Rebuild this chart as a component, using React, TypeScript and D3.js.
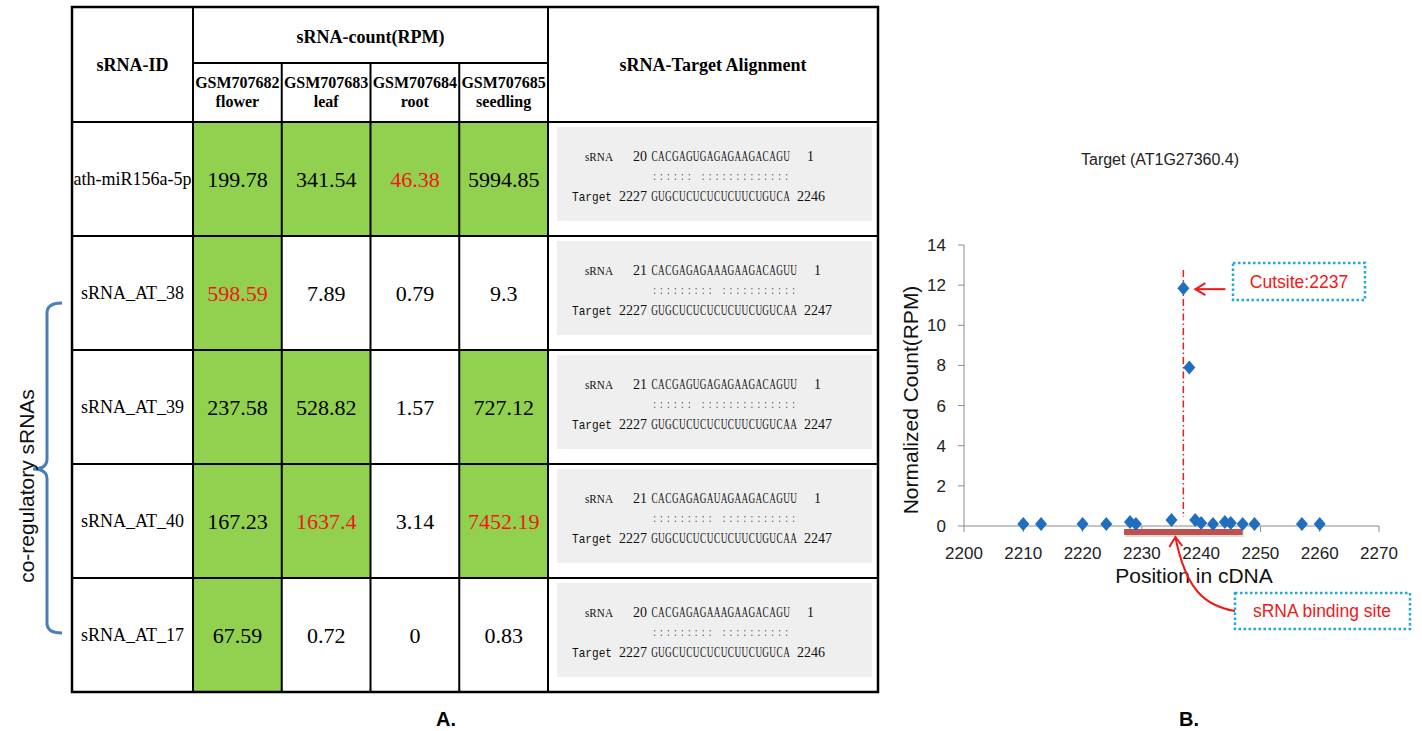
import React from 'react';
import * as d3 from 'd3';

// ---- table A data ----
const sampleIds = ['GSM707682', 'GSM707683', 'GSM707684', 'GSM707685'];
const tissues = ['flower', 'leaf', 'root', 'seedling'];
const srnaIds = ['ath-miR156a-5p', 'sRNA_AT_38', 'sRNA_AT_39', 'sRNA_AT_40', 'sRNA_AT_17'];

const flowerRpm = [199.78, 598.59, 237.58, 167.23, 67.59];
const leafRpm = [341.54, 7.89, 528.82, 1637.4, 0.72];
const rootRpm = [46.38, 0.79, 1.57, 3.14, 0];
const seedlingRpm = [5994.85, 9.3, 727.12, 7452.19, 0.83];

// 1 = cell shaded green, one flag per sample column
const greenCells = [
  [1, 1, 1, 1],
  [1, 0, 0, 0],
  [1, 1, 0, 1],
  [1, 1, 0, 1],
  [1, 0, 0, 0],
];
// 1 = value printed in red
const redCells = [
  [0, 0, 1, 0],
  [1, 0, 0, 0],
  [0, 0, 0, 0],
  [0, 1, 0, 1],
  [0, 0, 0, 0],
];

const srnaLengths = [20, 21, 21, 21, 20];
const srnaSeqs = [
  'CACGAGUGAGAGAAGACAGU',
  'CACGAGAGAAAGAAGACAGUU',
  'CACGAGUGAGAGAAGACAGUU',
  'CACGAGAGAUAGAAGACAGUU',
  'CACGAGAGAAAGAAGACAGU',
];
const pairLines = [
  ':::::: :::::::::::::',
  '::::::::: :::::::::::',
  ':::::: ::::::::::::::',
  '::::::::: :::::::::::',
  '::::::::: ::::::::::',
];
const targetSeqs = [
  'GUGCUCUCUCUCUUCUGUCA',
  'GUGCUCUCUCUCUUCUGUCAA',
  'GUGCUCUCUCUCUUCUGUCAA',
  'GUGCUCUCUCUCUUCUGUCAA',
  'GUGCUCUCUCUCUUCUGUCA',
];
const targetStart = 2227;
const targetEnds = [2246, 2247, 2247, 2247, 2246];

// ---- chart B data ----
const positions = [2210, 2213, 2220, 2224, 2228, 2229, 2235, 2237, 2238, 2239, 2240, 2242, 2244, 2245, 2247, 2249, 2257, 2260];
const counts = [0.1, 0.1, 0.1, 0.1, 0.2, 0.1, 0.3, 11.85, 7.9, 0.3, 0.15, 0.1, 0.2, 0.15, 0.1, 0.1, 0.1, 0.1];
const xTicks = [2200, 2210, 2220, 2230, 2240, 2250, 2260, 2270];
const yTicks = [0, 2, 4, 6, 8, 10, 12, 14];
const cutSite = 2237;
const bindingSite = [2227, 2247];

const SERIF = "'Liberation Serif', 'Times New Roman', serif";
const SANS = "'Liberation Sans', Arial, sans-serif";
const GREEN = '#92D050';
const RED = '#F01818';
const BLUE_BOX = '#1FA9E1';

const rpmCols = [flowerRpm, leafRpm, rootRpm, seedlingRpm];

// narrow serif letters, one per column of the alignment
const Seq = ({ chars, x0, y, step }: { chars: string; x0: number; y: number; step: number }) => (
  <g>
    {chars.split('').map((ch, i) => ch === ' ' ? null : (
      <text key={i} transform={`translate(${x0 + (i + 0.5) * step},${y}) scale(0.66,1)`} textAnchor="middle">{ch}</text>
    ))}
  </g>
);

const Table = () => {
  const left = 72;
  const right = 878;
  const top = 7;
  const headMid = 63;
  const headBottom = 122;
  const bottom = 692;
  const idRight = 193;
  const alignLeft = 548;

  const row = d3.scaleBand().domain(srnaIds).range([headBottom, bottom]);
  const col = d3.scaleBand().domain(sampleIds).range([idRight, alignLeft]);
  const charStep = 6.95;
  const seqX = alignLeft + 103;

  return (
    <g>
      {srnaIds.map((id, r) =>
        sampleIds.map((s, c) => (
          <rect key={id + s} x={col(s)} y={row(id)} width={col.bandwidth()} height={row.bandwidth()}
            fill={greenCells[r][c] ? GREEN : '#fff'} />
        ))
      )}

      {/* headers */}
      <text x={(left + idRight) / 2} y={71} textAnchor="middle" fontFamily={SERIF} fontWeight="bold" fontSize={18}>sRNA-ID</text>
      <text x={(idRight + alignLeft) / 2} y={43} textAnchor="middle" fontFamily={SERIF} fontWeight="bold" fontSize={18}>sRNA-count(RPM)</text>
      <text x={(alignLeft + right) / 2} y={71} textAnchor="middle" fontFamily={SERIF} fontWeight="bold" fontSize={18}>sRNA-Target Alignment</text>
      {sampleIds.map((s, c) => (
        <g key={s}>
          <text x={col(s) + col.bandwidth() / 2} y={88} textAnchor="middle" fontFamily={SERIF} fontWeight="bold" fontSize={16}>{s}</text>
          <text x={col(s) + col.bandwidth() / 2} y={107} textAnchor="middle" fontFamily={SERIF} fontWeight="bold" fontSize={16}>{tissues[c]}</text>
        </g>
      ))}

      {srnaIds.map((id, r) => {
        const y0 = row(id);
        const cy = y0 + row.bandwidth() / 2;
        return (
          <g key={id}>
            <text x={(left + idRight) / 2} y={cy + 6} textAnchor="middle" fontFamily={SERIF} fontSize={18}>{id}</text>
            {sampleIds.map((s, c) => (
              <text key={s} x={col(s) + col.bandwidth() / 2} y={cy + 7.5} textAnchor="middle" fontFamily={SERIF} fontSize={22}
                fill={redCells[r][c] ? RED : '#000'}>{String(rpmCols[c][r])}</text>
            ))}
            <rect x={alignLeft + 9} y={y0 + 5} width={right - alignLeft - 15} height={row.bandwidth() - 20} fill="#EFEFEF" />
            <g fontFamily={SERIF} fontSize={14} fill="#111">
              <text x={seqX - 38} y={y0 + 38.5} textAnchor="end" fontSize={13} textLength={28} lengthAdjust="spacingAndGlyphs">sRNA</text>
              <text x={seqX - 4} y={y0 + 38.5} textAnchor="end">{srnaLengths[r]}</text>
              <Seq chars={srnaSeqs[r]} x0={seqX} y={y0 + 38.5} step={charStep} />
              <text x={seqX + srnaSeqs[r].length * charStep + 17} y={y0 + 38.5}>1</text>
              <g fontSize={12}>
                <Seq chars={pairLines[r]} x0={seqX} y={y0 + 58} step={charStep} />
              </g>
              <text x={seqX - 79} y={y0 + 78.5} fontSize={13} textLength={40} lengthAdjust="spacingAndGlyphs" fontFamily="'Liberation Mono', monospace">Target</text>
              <text x={seqX - 4} y={y0 + 78.5} textAnchor="end">{targetStart}</text>
              <Seq chars={targetSeqs[r]} x0={seqX} y={y0 + 78.5} step={charStep} />
              <text x={seqX + targetSeqs[r].length * charStep + 7} y={y0 + 78.5}>{targetEnds[r]}</text>
            </g>
          </g>
        );
      })}

      {/* grid lines */}
      <g stroke="#000" strokeWidth={2} fill="none">
        <rect x={left} y={top} width={right - left} height={bottom - top} strokeWidth={2.5} />
        <line x1={idRight} x2={alignLeft} y1={headMid} y2={headMid} />
        {[idRight, alignLeft].map((x) => <line key={x} x1={x} x2={x} y1={top} y2={bottom} />)}
        {sampleIds.slice(1).map((s) => <line key={s} x1={col(s)} x2={col(s)} y1={headMid} y2={bottom} />)}
        {srnaIds.map((id) => <line key={id} x1={left} x2={right} y1={row(id)} y2={row(id)} />)}
      </g>

      {/* co-regulatory brace */}
      <path d="M62,303 Q47,303 47,313 L47,459 Q47,469 33,469 Q47,469 47,479 L47,623 Q47,633 62,633"
        fill="none" stroke="#4A7EBB" strokeWidth={3} />
      <text transform="translate(26,486) rotate(-90)" textAnchor="middle" dominantBaseline="central"
        fontFamily={SANS} fontSize={21} fill="#111">co-regulatory sRNAs</text>

      <text x={446} y={726} textAnchor="middle" fontFamily={SANS} fontWeight="bold" fontSize={20}>A.</text>
    </g>
  );
};

const Chart = () => {
  const x = d3.scaleLinear().domain([2200, 2270]).range([964, 1379]);
  const y = d3.scaleLinear().domain([0, 14]).range([526, 245]);
  const axisColor = '#8A8A8A';
  const diamond = (cx: number, cy: number) => `M${cx},${cy - 7}L${cx + 6},${cy}L${cx},${cy + 7}L${cx - 6},${cy}Z`;

  const cutX = x(cutSite);
  const peakY = y(counts[positions.indexOf(cutSite)]);
  const arrowTip = cutX + 12;
  const bindMidX = x((bindingSite[0] + bindingSite[1]) / 2) - 8;

  return (
    <g fontFamily={SANS}>
      <text x={1160} y={165} textAnchor="middle" fontSize={16} fill="#222">Target (AT1G27360.4)</text>

      {/* axes */}
      <line x1={x(2200)} x2={x(2200)} y1={y(14)} y2={y(0)} stroke={axisColor} />
      <line x1={x(2200)} x2={x(2270)} y1={y(0)} y2={y(0)} stroke={axisColor} />
      {yTicks.map((t) => (
        <g key={t}>
          <line x1={x(2200) - 6} x2={x(2200)} y1={y(t)} y2={y(t)} stroke={axisColor} />
          <text x={x(2200) - 18} y={y(t) + 6} textAnchor="end" fontSize={17} fill="#222">{t}</text>
        </g>
      ))}
      {xTicks.map((t) => (
        <g key={t}>
          <line x1={x(t)} x2={x(t)} y1={y(0)} y2={y(0) + 6} stroke={axisColor} />
          <text x={x(t)} y={y(0) + 33} textAnchor="middle" fontSize={17} fill="#222">{t}</text>
        </g>
      ))}
      <text transform="translate(910,400) rotate(-90)" textAnchor="middle" dominantBaseline="central" fontSize={21} fill="#111">
        Normalized Count(RPM)
      </text>

      {/* binding site bar */}
      <rect x={x(bindingSite[0]) + 1} y={y(0) + 5} width={x(bindingSite[1]) - x(bindingSite[0])} height={6} fill="#999" opacity={0.35} />
      <rect x={x(bindingSite[0])} y={y(0) + 3} width={x(bindingSite[1]) - x(bindingSite[0])} height={6} fill="#C0504D" />

      {/* cut site line */}
      <line x1={cutX} x2={cutX} y1={y(12.75)} y2={y(0.45)} stroke={RED} strokeWidth={1.5} strokeDasharray="7,3,1.5,3" />

      {/* points */}
      {positions.map((p, i) => (
        <path key={p} d={diamond(x(p), y(counts[i]))} fill="#1F6EBF" />
      ))}

      <text x={1194} y={583} textAnchor="middle" fontSize={21} fill="#111">Position in cDNA</text>

      {/* cut site callout */}
      <g stroke={RED} strokeWidth={2} fill="none">
        <line x1={arrowTip} x2={arrowTip + 30} y1={peakY + 1} y2={peakY + 1} />
        <polyline points={`${arrowTip + 10},${peakY - 5} ${arrowTip},${peakY + 1} ${arrowTip + 10},${peakY + 7}`} />
      </g>
      <rect x={1233} y={263} width={132} height={37} fill="#fff" stroke={BLUE_BOX} strokeWidth={2.5} strokeDasharray="2.5,2.5" />
      <text x={1299} y={288} textAnchor="middle" fontSize={17.5} fill={RED}>Cutsite:{cutSite}</text>

      {/* binding site callout */}
      <g stroke={RED} strokeWidth={2} fill="none">
        <path d={`M1235,611 C1205,606 1186,590 ${bindMidX},${y(0) + 11}`} />
        <polyline points={`${bindMidX - 6},${y(0) + 21} ${bindMidX},${y(0) + 11} ${bindMidX + 7},${y(0) + 20}`} />
      </g>
      <rect x={1235} y={593} width={175} height={36} fill="#fff" stroke={BLUE_BOX} strokeWidth={2.5} strokeDasharray="2.5,2.5" />
      <text x={1322} y={617} textAnchor="middle" fontSize={17.5} fill={RED}>sRNA binding site</text>

      <text x={1189} y={726} textAnchor="middle" fontWeight="bold" fontSize={20}>B.</text>
    </g>
  );
};

export default function App() {
  return (
    <div style={{ position: 'absolute', left: 0, top: 0 }}>
      <svg width={1422} height={731} style={{ display: 'block', background: '#fff' }}>
        <Table />
        <Chart />
      </svg>
    </div>
  );
}
